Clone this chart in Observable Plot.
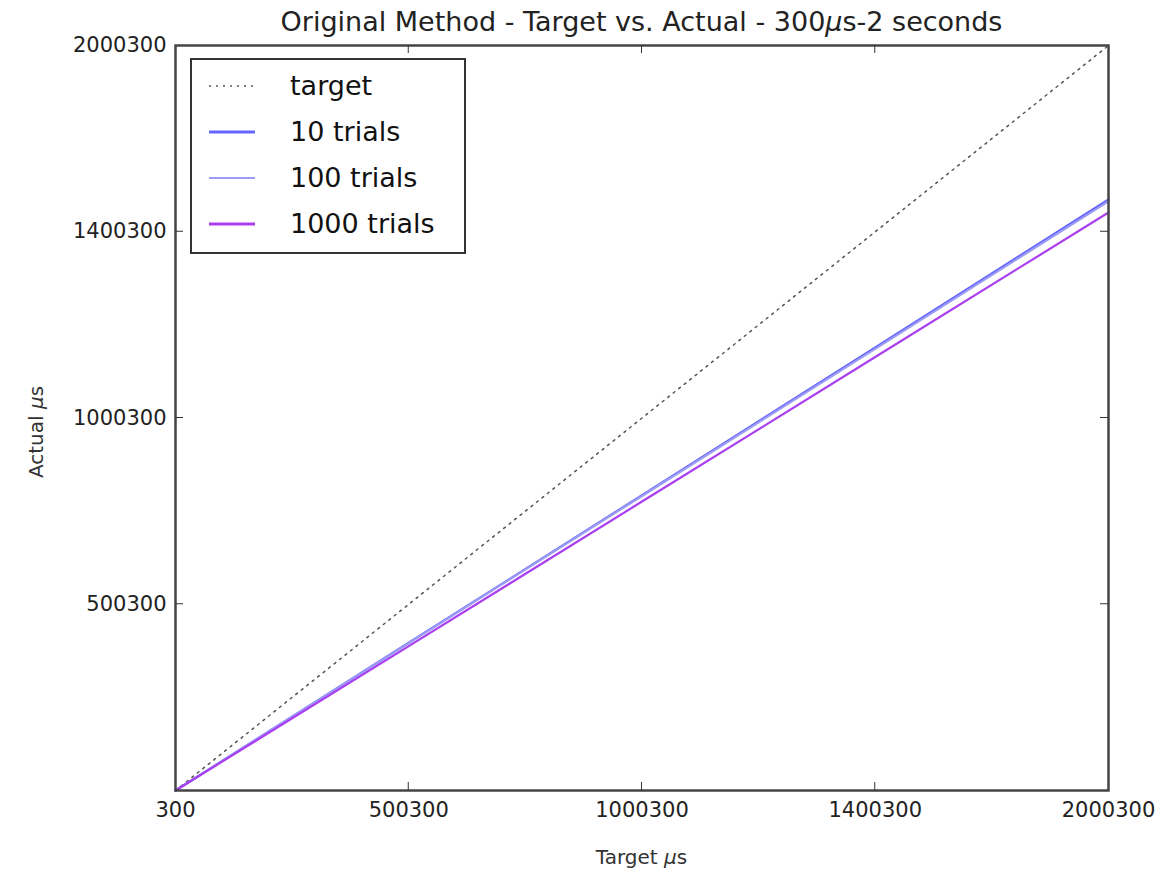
<!DOCTYPE html>
<html>
<head>
<meta charset="utf-8">
<script src="https://cdn.jsdelivr.net/npm/d3@7"></script>
<script src="https://cdn.jsdelivr.net/npm/@observablehq/plot@0.6"></script>
<style>
  body { margin: 0; background: #fff; font-family: "DejaVu Sans", sans-serif; }
  #wrap { position: relative; width: 1171px; height: 876px; overflow: hidden; }
  #chart { position: absolute; left: 0; top: 25px; }
  #title { position: absolute; left: 175px; width: 933px; top: 5px; text-align: center; font-size: 27px; line-height: 34px; color: #222; }
  .xl { position: absolute; left: 175px; width: 933px; top: 844px; text-align: center; font-size: 20px; line-height: 26px; color: #333; }
  .yl { position: absolute; left: 36px; top: 432px; transform: translate(-50%, -50%) rotate(-90deg); font-size: 20px; line-height: 26px; color: #333; white-space: nowrap; }
  #legend { position: absolute; left: 190px; top: 58px; width: 276px; height: 196px; border: 2px solid #333; background: #fff; box-sizing: border-box; }
  #legend .row { position: absolute; left: 0; height: 40px; }
  #legend .row span { position: absolute; left: 98px; top: 0; font-size: 27px; line-height: 40px; color: #111; white-space: nowrap; }
  #legend svg { position: absolute; left: 17px; top: 0; }
</style>
</head>
<body>
<div id="wrap">
  <div id="chart"></div>
  <div id="title">Original Method - Target vs. Actual - 300<i>μ</i>s-2 seconds</div>
  <div class="xl">Target <i>μ</i>s</div>
  <div class="yl">Actual <i>μ</i>s</div>
  <div id="legend"></div>
</div>
<script>
// Data
const targetUs   = [300, 500300, 1000300, 1500300, 2000300];
const trials10   = [300, 397000, 793000, 1190000, 1587000];
const trials100  = [300, 396000, 791000, 1186000, 1582000];
const trials1000 = [300, 388000, 776000, 1164000, 1552000];
const xTickValues = [300, 500300, 1000300, 1500300, 2000300];
const yTickValues = [500300, 1000300, 1500300, 2000300];
const tickValues = [300, 500300, 1000300, 1500300, 2000300];
const tickLabels = ["300", "500300", "1000300", "1400300", "2000300"];
const seriesNames = ["target", "10 trials", "100 trials", "1000 trials"];
const seriesColors = ["#555555", "#6464ff", "#9c9cf5", "#aa3ff0"];

const rows = [];
const seriesVals = [targetUs, trials10, trials100, trials1000];
seriesNames.forEach((name, i) => {
  targetUs.forEach((t, j) => rows.push({series: name, x: t, y: seriesVals[i][j]}));
});
const fmt = d => tickLabels[tickValues.indexOf(d)] ?? "";

const lineFor = (name, opts) => Plot.line(rows.filter(r => r.series === name), {x: "x", y: "y", ...opts});

const chart = Plot.plot({
  width: 1171,
  height: 851,
  marginTop: 20,
  marginLeft: 175,
  marginRight: 63,
  marginBottom: 86,
  style: {fontFamily: "DejaVu Sans, sans-serif", fontSize: "21px", color: "#222", background: "transparent"},
  x: {domain: [300, 2000300], label: null},
  y: {domain: [300, 2000300], label: null},
  marks: [
    lineFor("target", {stroke: seriesColors[0], strokeWidth: 1.5, strokeDasharray: "2,5"}),
    lineFor("10 trials", {stroke: seriesColors[1], strokeWidth: 2.2}),
    lineFor("100 trials", {stroke: seriesColors[2], strokeWidth: 2.2}),
    lineFor("1000 trials", {stroke: seriesColors[3], strokeWidth: 2.2}),
    Plot.axisX({ticks: xTickValues, tickFormat: fmt, tickSize: 0, tickPadding: 12, label: null, fontSize: 21}),
    Plot.axisY({ticks: yTickValues, tickFormat: fmt, tickSize: 0, tickPadding: 9, label: null, fontSize: 21}),
    Plot.frame({stroke: "#444", strokeWidth: 2.5})
  ]
});
// Inward ticks on all four sides, using the chart's own scales
const xs = chart.scale("x"), ys = chart.scale("y");
const svg = d3.select(chart);
const g = svg.append("g").attr("stroke", "#333").attr("stroke-width", 1);
const x0 = xs.apply(300), x1 = xs.apply(2000300), y0 = ys.apply(300), y1 = ys.apply(2000300);
tickValues.slice(1, -1).forEach(v => {
  const px = xs.apply(v), py = ys.apply(v);
  g.append("line").attr("x1", px).attr("x2", px).attr("y1", y0).attr("y2", y0 - 8);
  g.append("line").attr("x1", px).attr("x2", px).attr("y1", y1).attr("y2", y1 + 8);
  g.append("line").attr("y1", py).attr("y2", py).attr("x1", x0).attr("x2", x0 + 8);
  g.append("line").attr("y1", py).attr("y2", py).attr("x1", x1).attr("x2", x1 - 8);
});
document.getElementById("chart").appendChild(chart);

// Legend
const leg = document.getElementById("legend");
seriesNames.forEach((name, i) => {
  const row = document.createElement("div");
  row.className = "row";
  row.style.top = (6 + i * 46) + "px";
  row.style.width = "100%";
  const dash = i === 0 ? 'stroke-dasharray="2,5" stroke-width="1.5"' : 'stroke-width="' + (i === 2 ? 2 : 3) + '"';
  row.innerHTML = `<svg width="50" height="40"><line x1="0" x2="46" y1="20" y2="20" stroke="${seriesColors[i]}" ${dash}/></svg><span>${name}</span>`;
  leg.appendChild(row);
});
</script>
</body>
</html>
